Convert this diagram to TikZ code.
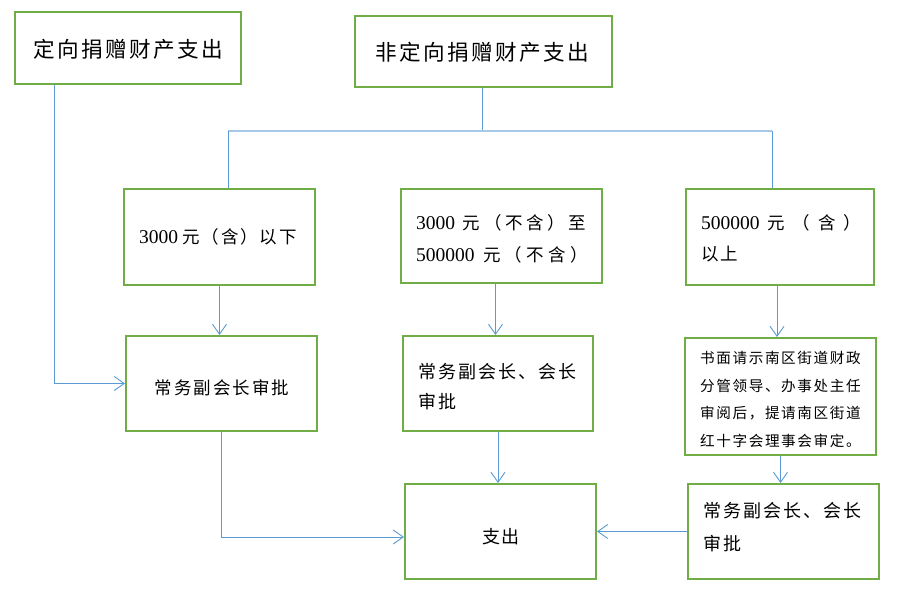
\documentclass[tikz,border=0pt]{standalone}
\usepackage{fontspec}
\setmainfont{Liberation Serif}
\newfontfamily\cjk[LetterSpace=11]{Noto Sans CJK SC}
\newfontfamily\latn{Liberation Serif}
\usetikzlibrary{arrows.meta}
\definecolor{boxgreen}{HTML}{70AD47}
\definecolor{lineblue}{HTML}{5B9BD5}
\definecolor{lightblue}{HTML}{A8C8E8}
\newcommand\nm[1]{{\latn\fontsize{19.5}{25}\selectfont #1}}
\tikzset{
  box/.style={draw=boxgreen, line width=2pt, rectangle, inner sep=0pt, fill=white},
  txt/.style={inner sep=0pt, text=black, align=left},
  conn/.style={draw=lineblue, line width=0.9pt},
  hconn/.style={draw=lightblue, line width=2pt},
  arr/.style={conn, -{Straight Barb[length=10pt,width=14pt,line width=0.9pt]}},
}
\begin{document}
\begin{tikzpicture}[x=1pt,y=-1pt]
\useasboundingbox[fill=white] (0,0) rectangle (900,599);
% boxes
\node[box, minimum width=226pt, minimum height=72pt] (A) at (128,48) {};
\node[box, minimum width=257pt, minimum height=71pt] (B) at (483.5,51.5) {};
\node[box, minimum width=191pt, minimum height=96pt] (C) at (219.5,237) {};
\node[box, minimum width=201pt, minimum height=94pt] (D) at (501.5,236) {};
\node[box, minimum width=188pt, minimum height=96pt] (E) at (780,237) {};
\node[box, minimum width=191pt, minimum height=95pt] (F) at (221.5,383.5) {};
\node[box, minimum width=190pt, minimum height=95pt] (G) at (498,383.5) {};
\node[box, minimum width=191pt, minimum height=117pt] (H) at (780.5,396.5) {};
\node[box, minimum width=191pt, minimum height=95pt] (I) at (500.5,531.5) {};
\node[box, minimum width=191pt, minimum height=95pt] (J) at (783.5,531.5) {};
% texts
\node[txt, font={\cjk\fontsize{21.6}{25}\selectfont}] (tA) at (128,49) {定向捐赠财产支出};
\node[txt, font={\cjk\fontsize{21.6}{25}\selectfont}] (tB) at (482.5,52) {非定向捐赠财产支出};
\node[txt, font={\cjk\fontsize{17.5}{32}\selectfont}] (tC) at (218,237) {\nm{3000}\hspace{4pt}元（含）以下};
\node[txt, anchor=west, font={\cjk\fontsize{17.5}{32}\selectfont}] (tD) at (416,239) {\makebox[170pt][s]{\nm{3000}\hspace{4pt}\hfil 元\hfil （\hfil 不\hfil 含\hfil ）\hfil 至}\\\makebox[172pt][s]{\nm{500000}\hspace{4pt}\hfil 元\hfil （\hfil 不\hfil 含\hfil ）}};
\node[txt, anchor=west, font={\cjk\fontsize{17.5}{31}\selectfont}] (tE) at (701,238.5) {\makebox[160pt][s]{\nm{500000}\hfill 元\hfill （\hfill 含\hfill ）}\\以上};
\node[txt, font={\cjk\fontsize{17.5}{32}\selectfont}] (tF) at (222,388) {常务副会长审批};
\node[txt, anchor=west, font={\cjk\fontsize{18}{30}\selectfont}] (tG) at (418,387) {常务副会长、会长\\审批};
\node[txt, anchor=west, font={\cjk\fontsize{14.6}{27.7}\selectfont}] (tH) at (700,399.5) {书面请示南区街道财政\\分管领导、办事处主任\\审阅后，提请南区街道\\红十字会理事会审定。};
\node[txt, font={\cjk\fontsize{18}{25}\selectfont}] (tI) at (501,537) {支出};
\node[txt, anchor=west, font={\cjk\fontsize{18}{33}\selectfont}] (tJ) at (703,527.5) {常务副会长、会长\\审批};
% connectors
\coordinate (hl) at (228,131);
\coordinate (hr) at (772,131);
\coordinate (a1) at (54,383.5);
\coordinate (f1) at (221.5,537);
\draw[conn] ([xshift=-1.5pt]B.south) -- ([xshift=-1.5pt]B.south |- hl);
\draw[hconn] (hl) -- (hr);
\draw[conn] (hl) -- (hl |- C.north);
\draw[conn] (hr) -- (hr |- E.north);
\draw[arr] (A.south -| a1) -- (a1) -- (F.west);
\draw[arr] (C.south) -- (C.south |- F.north);
\draw[arr] ([xshift=-6pt]D.south) -- ([xshift=-6pt]D.south |- G.north);
\draw[arr] ([xshift=-3pt]E.south) -- ([xshift=-3pt]E.south |- H.north);
\draw[arr] (F.south) -- (f1) -- (f1 -| I.west);
\draw[arr] (G.south) -- (G.south |- I.north);
\draw[arr] (H.south) -- (H.south |- J.north);
\draw[arr] (J.west) -- (J.west -| I.east);
\end{tikzpicture}
\end{document}
